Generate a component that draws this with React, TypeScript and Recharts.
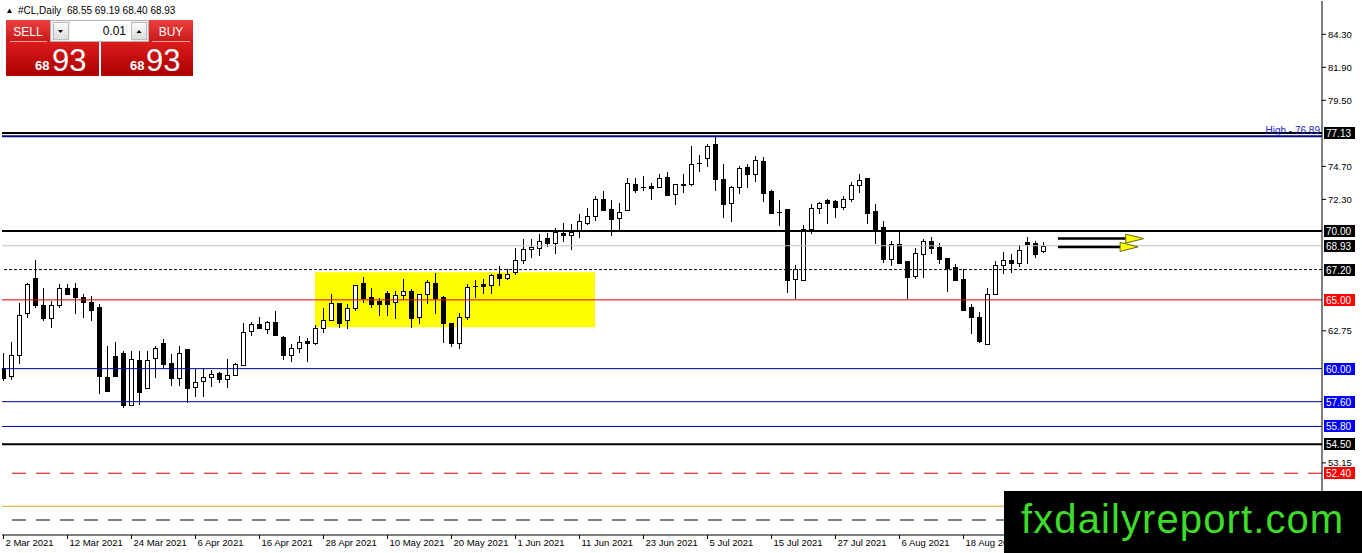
import React from 'react';
import { ComposedChart, Bar, XAxis, YAxis, ReferenceLine, ReferenceArea, ReferenceDot } from 'recharts';

// ---------- data ----------
const opens = [
  60.07, 59.46, 60.97, 64.06, 66.56, 64.6, 63.7, 64.6, 65.84, 65.84,
  65.2, 64.84, 64.48, 59.39, 60.92, 61.16, 57.35, 60.63, 58.57, 60.79,
  61.84, 60.38, 59.34, 61.4, 58.68, 59.1, 59.41, 59.66, 59.22, 59.51,
  60.26, 62.73, 63.22, 62.86, 63.39, 62.3, 60.97, 61.52, 62.01, 61.84,
  62.93, 63.53, 64.75, 63.51, 64.43, 66.25, 65.2, 64.91, 65.52, 64.86,
  65.33, 65.64, 63.75, 65.44, 66.2, 65.2, 63.29, 61.84, 63.77, 65.98,
  66.13, 66.05, 66.85, 66.56, 67.02, 67.87, 68.67, 68.79, 69.47, 69.15,
  69.88, 69.71, 70.0, 70.56, 71.09, 72.35, 71.58, 70.97, 71.5, 73.44,
  73.22, 73.27, 73.22, 73.92, 72.67, 73.4, 73.39, 74.96, 75.28, 76.3,
  73.76, 72.06, 73.2, 74.65, 74.12, 75.09, 72.91, 71.4, 71.58, 66.49,
  66.42, 70.12, 71.65, 72.25, 72.18, 71.77, 72.3, 73.34, 73.83, 71.45,
  70.29, 67.94, 69.03, 67.82, 66.73, 68.35, 69.27, 68.84, 68.02, 67.38,
  66.49, 64.48, 63.77, 61.81, 65.4, 67.53, 67.89, 67.65, 69.2, 69.15,
  68.55,
];
const highs = [
  61.13, 61.96, 64.79, 66.25, 67.87, 65.84, 64.91, 66.13, 66.13, 66.25,
  65.4, 65.28, 64.67, 61.64, 61.96, 61.25, 61.28, 61.28, 61.28, 61.64,
  62.13, 61.08, 61.64, 61.45, 59.95, 60.02, 59.9, 59.78, 60.68, 60.43,
  63.34, 63.39, 63.75, 63.45, 64.19, 62.4, 61.77, 62.37, 62.2, 63.17,
  64.38, 65.4, 64.8, 64.67, 66.1, 66.66, 65.84, 65.15, 65.64, 65.64,
  66.49, 65.76, 65.45, 66.42, 66.97, 65.25, 63.35, 64.06, 66.13, 66.42,
  66.49, 66.9, 67.46, 67.22, 68.79, 69.4, 69.4, 69.76, 69.88, 70.2,
  70.6, 70.49, 71.21, 71.65, 72.54, 72.91, 72.23, 72.06, 73.87, 73.87,
  74.0, 73.51, 74.16, 74.31, 73.45, 74.12, 76.18, 75.5, 76.3, 76.89,
  74.84, 73.25, 74.72, 74.84, 75.45, 75.38, 72.95, 72.23, 71.6, 67.53,
  70.44, 71.98, 72.1, 72.3, 72.25, 72.54, 73.58, 74.12, 73.85, 71.94,
  70.73, 69.27, 70.05, 67.85, 68.79, 69.4, 69.56, 69.15, 68.05, 67.58,
  67.22, 64.72, 64.14, 65.88, 67.82, 68.5, 68.31, 68.98, 69.56, 69.27,
  69.19,
];
const lows = [
  59.1, 59.15, 60.36, 63.7, 64.43, 63.46, 62.97, 64.43, 65.33, 63.99,
  63.7, 63.46, 58.13, 58.3, 59.4, 57.11, 57.3, 57.35, 58.5, 59.29,
  59.95, 58.74, 58.74, 57.52, 57.96, 57.96, 58.68, 58.98, 58.61, 59.45,
  60.19, 62.37, 62.9, 62.49, 62.4, 60.63, 60.5, 61.16, 60.5, 61.72,
  62.61, 63.45, 62.97, 62.86, 64.19, 64.79, 64.38, 63.82, 63.82, 63.58,
  64.99, 62.97, 63.22, 64.72, 63.99, 61.88, 61.59, 61.45, 63.51, 65.15,
  65.4, 65.4, 66.0, 66.42, 66.8, 67.63, 68.06, 68.18, 68.84, 68.35,
  69.22, 68.6, 69.51, 70.45, 70.73, 71.45, 69.64, 70.0, 71.45, 72.79,
  72.91, 72.23, 73.15, 72.55, 71.89, 72.79, 73.27, 74.31, 74.65, 72.91,
  70.97, 70.68, 72.67, 73.1, 73.58, 72.13, 71.3, 70.36, 65.52, 65.04,
  66.35, 69.76, 71.26, 70.49, 70.97, 71.5, 72.13, 72.79, 70.49, 69.08,
  67.7, 67.46, 67.65, 65.04, 66.49, 66.56, 68.35, 67.63, 65.59, 66.37,
  64.19, 62.49, 61.88, 61.78, 65.35, 66.85, 66.97, 67.38, 67.58, 68.06,
  68.4,
];
const closes = [
  59.34, 60.97, 63.87, 66.13, 64.6, 63.7, 64.6, 65.84, 65.4, 65.23,
  64.84, 64.26, 59.43, 58.37, 59.46, 57.33, 60.68, 58.32, 60.63, 61.48,
  60.31, 59.29, 61.11, 58.61, 59.05, 59.41, 59.63, 59.22, 59.51, 60.31,
  62.66, 63.22, 62.93, 63.39, 62.42, 60.97, 61.52, 61.96, 61.84, 62.93,
  63.51, 64.75, 63.34, 64.38, 66.05, 65.15, 64.72, 64.72, 64.72, 65.35,
  65.64, 63.66, 65.4, 66.29, 65.11, 63.29, 61.88, 63.75, 65.93, 66.02,
  65.98, 66.8, 66.56, 66.85, 67.87, 68.67, 68.84, 69.27, 69.1, 69.95,
  69.69, 69.93, 70.73, 71.09, 72.35, 71.53, 70.9, 71.38, 73.46, 72.98,
  73.18, 73.15, 73.87, 72.62, 73.39, 73.37, 74.84, 74.94, 76.18, 73.76,
  71.98, 73.2, 74.56, 74.12, 75.14, 72.79, 71.33, 71.36, 66.42, 67.22,
  70.12, 71.65, 72.06, 72.06, 71.77, 72.3, 73.32, 73.68, 71.33, 70.07,
  67.94, 69.03, 67.7, 66.66, 68.38, 69.27, 68.79, 67.94, 67.33, 66.44,
  64.24, 63.77, 62.01, 65.44, 67.51, 67.87, 67.65, 68.6, 69.03, 68.35,
  68.93,
];

const tickBars = [0, 8, 16, 24, 32, 40, 48, 56, 64, 72, 80, 88, 96, 104, 112, 120];
const tickLabels = [
  '2 Mar 2021', '12 Mar 2021', '24 Mar 2021', '6 Apr 2021', '16 Apr 2021', '28 Apr 2021',
  '10 May 2021', '20 May 2021', '1 Jun 2021', '11 Jun 2021', '23 Jun 2021', '5 Jul 2021',
  '15 Jul 2021', '27 Jul 2021', '6 Aug 2021', '18 Aug 2021',
];
const priceTicks = [84.3, 81.9, 79.5, 74.7, 72.3, 62.75, 53.15];

// horizontal levels and their tags
const levelPrices = [77.13, 76.89, 70.0, 68.93, 67.2, 65.0, 60.0, 57.6, 55.8, 54.5, 52.4, 50.0, 49.0];
const levelTags = ['box', 'high', 'box', 'box', 'box', 'box', 'box', 'box', 'box', 'box', 'box', 'none', 'none'];

// yellow zone
const zoneBars = [38.94, 73.94];
const zonePrices = [63.0, 67.0];

// arrow drawings
const arrowFrom = [131.8, 131.8];
const arrowTo = [140.8, 139.9];
const arrowPrices = [69.45, 68.85];
const arrowHeadBars = [141.4, 140.7];

const symbolText = '#CL,Daily';
const ohlcText = '68.55 69.19 68.40 68.93';
const lotText = '0.01';
const bidBig = '68';
const bidSmall = '93';
const askBig = '68';
const askSmall = '93';
const watermark = 'fxdailyreport.com';

// ---------- styles ----------
const levelStyles = [
  { stroke: '#000000', w: 2, dash: undefined, bg: '#000000' },
  { stroke: '#0a0a8c', w: 2, dash: undefined, bg: '#0a0a8c' },
  { stroke: '#000000', w: 2, dash: undefined, bg: '#000000' },
  { stroke: '#c0c0c0', w: 1, dash: undefined, bg: '#000000' },
  { stroke: '#000000', w: 1, dash: '3 2', bg: '#000000' },
  { stroke: '#e00000', w: 1, dash: undefined, bg: '#ff0000' },
  { stroke: '#0000a8', w: 1, dash: undefined, bg: '#0000ff' },
  { stroke: '#0000a8', w: 1, dash: undefined, bg: '#0000ff' },
  { stroke: '#0000a8', w: 1, dash: undefined, bg: '#0000ff' },
  { stroke: '#000000', w: 2, dash: undefined, bg: '#000000' },
  { stroke: '#e00000', w: 1, dash: '14 10', bg: '#ff0000' },
  { stroke: '#daa520', w: 1, dash: undefined, bg: '#daa520' },
  { stroke: '#000000', w: 1, dash: '14 10', bg: '#000000' },
];

const data = opens.map((o, i) => ({ i, open: o, high: highs[i], low: lows[i], close: closes[i] }));

const FONT = '"Liberation Sans", Arial, sans-serif';

function Candle(props: any) {
  const { x, y, width, height, payload } = props;
  if (!payload || x == null || y == null) return null;
  const top = Math.min(y, y + height);
  const h = Math.abs(height);
  const span = payload.high - payload.low;
  const py = (v: number) => (span > 0 ? top + ((payload.high - v) / span) * h : top);
  const cx = Math.round(x + width / 2 - 0.5) + 0.5;
  const yo = py(payload.open);
  const yc = py(payload.close);
  const up = payload.close >= payload.open;
  const bTop = Math.round(Math.min(yo, yc)) + 0.5;
  const bBot = Math.round(Math.max(yo, yc)) + 0.5;
  return (
    <g>
      <line x1={cx} x2={cx} y1={Math.round(top)} y2={Math.round(top + h)} stroke="#000" strokeWidth={1} />
      {bBot - bTop < 1 ? (
        <line x1={cx - 2.5} x2={cx + 2.5} y1={bTop} y2={bTop} stroke="#000" strokeWidth={1} />
      ) : (
        <rect x={cx - 2} y={bTop} width={4} height={bBot - bTop} fill={up ? '#fff' : '#000'} stroke="#000" strokeWidth={1} />
      )}
    </g>
  );
}

function XTick(props: any) {
  const { x, y, payload } = props;
  const idx = tickBars.indexOf(payload.value);
  return (
    <text x={x + 2} y={y} dy="0.71em" fontSize={9.5} fill="#000" textAnchor="start" fontFamily={FONT}>
      {idx >= 0 ? tickLabels[idx] : ''}
    </text>
  );
}

const makeTag = (price: number, kind: string, bg: string) => (props: any) => {
  const vb = props && props.viewBox;
  if (!vb) return null;
  if (kind === 'box') {
    const x = vb.x + vb.width + 2;
    const y = Math.round(vb.y);
    return (
      <g>
        <rect x={x} y={y - 6} width={31} height={12} fill={bg} />
        <text x={x + 2} y={y + 3.5} fontSize={10} fill="#fff" fontFamily={FONT}>
          {price.toFixed(2)}
        </text>
      </g>
    );
  }
  if (kind === 'high') {
    return (
      <text x={vb.x + vb.width - 2} y={vb.y - 2} fontSize={10} fill="#2222c0" textAnchor="end" fontFamily={FONT}>
        {'High - ' + price.toFixed(2)}
      </text>
    );
  }
  return null;
};

function ArrowHead(props: any) {
  const { cx, cy } = props;
  if (cx == null || cy == null) return null;
  return (
    <polygon
      points={`${cx - 9},${cy - 4.5} ${cx + 9},${cy} ${cx - 9},${cy + 4.5}`}
      fill="#ffff00"
      stroke="#6a6a10"
      strokeWidth={1}
    />
  );
}

export default function App() {
  return (
    <div style={{ position: 'absolute', left: 0, top: 0, width: 1362, height: 553, background: '#fff', overflow: 'hidden', fontFamily: FONT }}>
      <ComposedChart width={1362} height={553} data={data} margin={{ top: 1, right: 0, bottom: 0, left: 2 }}>
        <XAxis
          xAxisId="x"
          dataKey="i"
          type="number"
          domain={[-0.1875, 164.8125]}
          allowDataOverflow
          ticks={tickBars}
          interval={0}
          height={18}
          tickSize={4}
          tickMargin={0}
          tick={<XTick />}
          axisLine={{ stroke: '#000' }}
          tickLine={{ stroke: '#000' }}
        />
        <XAxis
          xAxisId="top"
          orientation="top"
          type="number"
          domain={[0, 1]}
          height={0}
          tick={false}
          tickLine={false}
          axisLine={{ stroke: '#000' }}
        />
        <YAxis
          yAxisId="left"
          orientation="left"
          type="number"
          domain={[0, 1]}
          width={0}
          tick={false}
          tickLine={false}
          axisLine={{ stroke: '#000' }}
        />
        <YAxis
          yAxisId="p"
          orientation="right"
          type="number"
          domain={[47.91, 86.72]}
          allowDataOverflow
          ticks={priceTicks}
          interval={0}
          width={40}
          tickSize={4}
          tickMargin={2}
          tickFormatter={(v: number) => v.toFixed(2)}
          tick={{ fontSize: 9.5, fill: '#000', fontFamily: FONT }}
          axisLine={{ stroke: '#000' }}
          tickLine={{ stroke: '#000' }}
        />
        <ReferenceArea
          xAxisId="x"
          yAxisId="p"
          x1={zoneBars[0]}
          x2={zoneBars[1]}
          y1={zonePrices[0]}
          y2={zonePrices[1]}
          fill="#ffff00"
          fillOpacity={1}
          stroke="none"
        />
        <Bar
          xAxisId="x"
          yAxisId="p"
          dataKey={(d: any) => [d.low, d.high]}
          barSize={5}
          shape={(p: any) => <Candle {...p} />}
          isAnimationActive={false}
        />
        {levelPrices.map((p, k) => (
          <ReferenceLine
            key={'lv' + k}
            xAxisId="x"
            yAxisId="p"
            y={p}
            stroke={levelStyles[k].stroke}
            strokeWidth={levelStyles[k].w}
            strokeDasharray={levelStyles[k].dash}
            label={makeTag(p, levelTags[k], levelStyles[k].bg)}
          />
        ))}
        {arrowPrices.map((p, k) => (
          <ReferenceLine
            key={'ar' + k}
            xAxisId="x"
            yAxisId="p"
            segment={[
              { x: arrowFrom[k], y: p },
              { x: arrowTo[k], y: p },
            ]}
            stroke="#000"
            strokeWidth={2.5}
          />
        ))}
        {arrowPrices.map((p, k) => (
          <ReferenceDot
            key={'ah' + k}
            xAxisId="x"
            yAxisId="p"
            x={arrowHeadBars[k]}
            y={p}
            r={5}
            shape={(s: any) => <ArrowHead {...s} />}
          />
        ))}
      </ComposedChart>

      <svg width={1362} height={553} style={{ position: 'absolute', left: 0, top: 0, pointerEvents: 'none' }} fontFamily={FONT}>
        <defs>
          <linearGradient id="gBtn" x1="0" y1="0" x2="0" y2="1">
            <stop offset="0" stopColor="#ec4040" />
            <stop offset="1" stopColor="#c81818" />
          </linearGradient>
          <linearGradient id="gBig" x1="0" y1="0" x2="0" y2="1">
            <stop offset="0" stopColor="#dc1c1c" />
            <stop offset="1" stopColor="#a80000" />
          </linearGradient>
          <linearGradient id="gGray" x1="0" y1="0" x2="0" y2="1">
            <stop offset="0" stopColor="#fbfbfb" />
            <stop offset="1" stopColor="#dcdcdc" />
          </linearGradient>
        </defs>
        {/* header */}
        <polygon points="7,13 12,13 9.5,8.5" fill="#000" />
        <text x={18} y={14} fontSize={10} fill="#000">{symbolText}</text>
        <text x={67} y={14} fontSize={10} fill="#000">{ohlcText}</text>

        {/* trade panel */}
        <rect x={6} y={20} width={44} height={22} fill="url(#gBtn)" />
        <text x={28} y={36} fontSize={12} fill="#fff" textAnchor="middle">SELL</text>
        <rect x={149} y={20} width={44} height={22} fill="url(#gBtn)" />
        <text x={171} y={36} fontSize={12} fill="#fff" textAnchor="middle">BUY</text>
        <line x1={10} x2={47} y1={41.5} y2={41.5} stroke="#f4a0a0" strokeWidth={1} />
        <line x1={152} x2={190} y1={41.5} y2={41.5} stroke="#f4a0a0" strokeWidth={1} />

        <rect x={50.5} y={20.5} width={98} height={21} fill="#ececec" stroke="#b4b4b4" />
        <rect x={53.5} y={22.5} width={15} height={17} fill="url(#gGray)" stroke="#bdbdbd" />
        <polygon points="58,30 63,30 60.5,33" fill="#000" />
        <rect x={70} y={21} width={61} height={20} fill="#fff" />
        <text x={126} y={35} fontSize={12} fill="#000" textAnchor="end">{lotText}</text>
        <rect x={131.5} y={22.5} width={15} height={17} fill="url(#gGray)" stroke="#bdbdbd" />
        <polygon points="136.5,33 141.5,33 139,30" fill="#000" />

        <rect x={6} y={42} width={93} height={34} fill="url(#gBig)" />
        <rect x={101} y={42} width={92} height={34} fill="url(#gBig)" />
        <text x={35} y={70} fontSize={13} fontWeight="bold" fill="#fff">{bidBig}</text>
        <text x={52} y={71} fontSize={31} fill="#fff">{bidSmall}</text>
        <text x={130} y={70} fontSize={13} fontWeight="bold" fill="#fff">{askBig}</text>
        <text x={146} y={71} fontSize={31} fill="#fff">{askSmall}</text>

        {/* watermark */}
        <rect x={1004} y={491} width={358} height={62} fill="#000" />
        <text x={1021} y={533} fontSize={40} fill="#3edc2a" letterSpacing={1.1}>{watermark}</text>
      </svg>
    </div>
  );
}
